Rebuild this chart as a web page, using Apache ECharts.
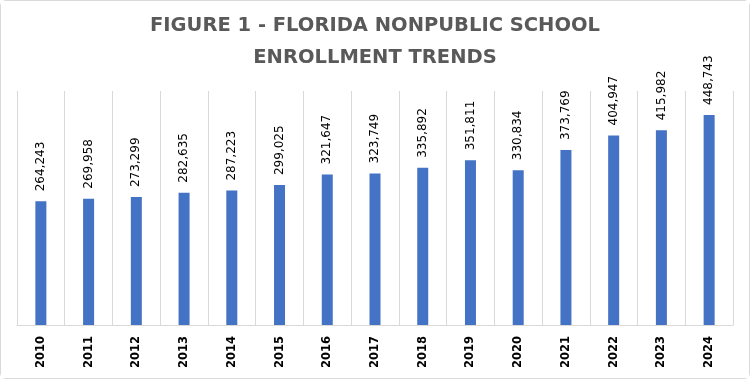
<!DOCTYPE html>
<html>
<head>
<meta charset="utf-8">
<script src="https://cdn.jsdelivr.net/npm/echarts@6/dist/echarts.min.js"></script>
<style>
html,body{margin:0;padding:0;background:#fff;}
#chart{width:748px;height:377px;border:1px solid #d9d9d9;border-radius:6px;background:#fff;}
</style>
</head>
<body>
<div id="chart"></div>
<script>
const years = ['2010','2011','2012','2013','2014','2015','2016','2017','2018','2019','2020','2021','2022','2023','2024'];
const enrollment = [264243,269958,273299,282635,287223,299025,321647,323749,335892,351811,330834,373769,404947,415982,448743];
const titleText = 'FIGURE 1 - FLORIDA NONPUBLIC SCHOOL\nENROLLMENT TRENDS';

const chart = echarts.init(document.getElementById('chart'), null, {renderer:'canvas'});
chart.setOption({
  animation:false,
  backgroundColor:'#fff',
  title:{
    text:titleText,
    left:'center',
    top:9,
    padding:0,
    textStyle:{fontFamily:'DejaVu Sans',fontWeight:'bold',fontSize:19.5,color:'#595959',lineHeight:32}
  },
  grid:{left:16,right:16,top:90,bottom:53,containLabel:false},
  xAxis:{
    type:'category',
    data:years,
    axisLine:{show:true,lineStyle:{color:'#d9d9d9',width:1}},
    axisTick:{show:false},
    splitLine:{show:true,lineStyle:{color:'#d9d9d9',width:1}},
    axisLabel:{rotate:90,margin:11,fontFamily:'DejaVu Sans',fontWeight:'bold',fontSize:11.5,color:'#000',interval:0}
  },
  yAxis:{
    type:'value',min:0,max:500000,
    show:false,
    splitLine:{show:false}
  },
  series:[{
    type:'bar',
    data:enrollment,
    barWidth:11,
    itemStyle:{color:'#4472c4'},
    label:{
      show:true,position:'top',rotate:90,align:'left',verticalAlign:'middle',distance:10,
      fontFamily:'DejaVu Sans',fontSize:12,color:'#000',
      formatter:p=>p.value.toLocaleString('en-US')
    }
  }]
});
</script>
</body>
</html>
